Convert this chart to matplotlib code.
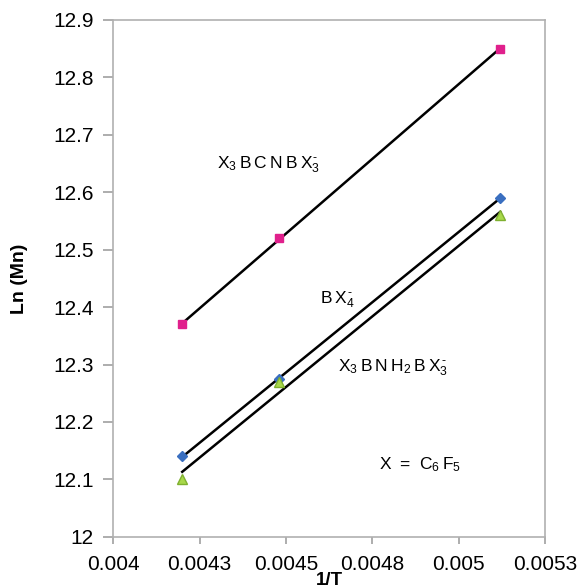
import matplotlib
matplotlib.use('Agg')
import matplotlib.pyplot as plt
import numpy as np

plt.rcParams['font.family'] = ['Liberation Sans', 'DejaVu Sans']
plt.rcParams['mathtext.fontset'] = 'custom'
plt.rcParams['mathtext.rm'] = 'Liberation Sans'
plt.rcParams['mathtext.it'] = 'Liberation Sans'
plt.rcParams['mathtext.bf'] = 'Liberation Sans:bold'

# 1/T values (K^-1) and Ln(Mn) for each anion
inv_T = [0.00420, 0.00448, 0.00512]
ln_bcnb = [12.37, 12.52, 12.85]
ln_bx4 = [12.14, 12.275, 12.59]
ln_bnh2b = [12.10, 12.27, 12.56]

x_ticks = [0.004, 0.00425, 0.0045, 0.00475, 0.005, 0.00525]
x_labels = ['0.004', '0.0043', '0.0045', '0.0048', '0.005', '0.0053']
y_ticks = [12, 12.1, 12.2, 12.3, 12.4, 12.5, 12.6, 12.7, 12.8, 12.9]
y_labels = ['12', '12.1', '12.2', '12.3', '12.4', '12.5', '12.6', '12.7', '12.8', '12.9']

fig = plt.figure(figsize=(5.83, 5.88), dpi=100)
ax = fig.add_axes([0.194, 0.087, 0.741, 0.879])

x = np.array(inv_T)
for y in [ln_bcnb, ln_bx4, ln_bnh2b]:
    k, b = np.polyfit(x, y, 1)
    ax.plot([x[0], x[-1]], [k * x[0] + b, k * x[-1] + b], color='black', lw=1.8, zorder=2)

ax.plot(inv_T, ln_bcnb, 's', color='#e0208c', ms=6, zorder=3)
ax.plot(inv_T, ln_bx4, 'D', color='#3a6fc0', ms=5, zorder=3)
ax.plot(inv_T, ln_bnh2b, '^', color='#a8d84a', mec='#7fb030', ms=7, zorder=4)

sp = r'\:'
neg = r'^{\mathbf{\text{-}}}'
ax.text(0.0043, 12.648, '$' + sp.join(['X_3', 'B', 'C', 'N', 'B', 'X_3' + neg]) + '$',
        fontsize=12.5, va='center')
ax.text(0.0046, 12.413, '$' + sp.join(['B', 'X_4' + neg]) + '$', fontsize=12.5, va='center')
ax.text(0.00465, 12.294, '$' + sp.join(['X_3', 'B', 'N', 'H_2', 'B', 'X_3' + neg]) + '$',
        fontsize=12.5, va='center')
ax.text(0.00477, 12.125, '$' + sp.join(['X', r'\:=', r'\:C_6', 'F_5']) + '$', fontsize=12.5, va='center')

ax.set_xlim(0.004, 0.00525)
ax.set_ylim(12, 12.9)
ax.set_xticks(x_ticks)
ax.set_xticklabels(x_labels)
ax.set_yticks(y_ticks)
ax.set_yticklabels(y_labels)
ax.tick_params(labelsize=15, color='#a0a0a0', width=1.2, direction='out')
ax.tick_params(axis='x', length=5, pad=8)
ax.tick_params(axis='y', length=7, pad=7)
for s in ax.spines.values():
    s.set_color('#b0b0b0')
    s.set_linewidth(1.2)

ax.set_xlabel('1/T', fontsize=13.5, fontweight='bold')
ax.set_ylabel('Ln (Mn)', fontsize=14, fontweight='bold')
ax.xaxis.set_label_coords(0.5, -0.068)
ax.yaxis.set_label_coords(-0.197, 0.5)

fig.savefig('out.png', dpi=100)
